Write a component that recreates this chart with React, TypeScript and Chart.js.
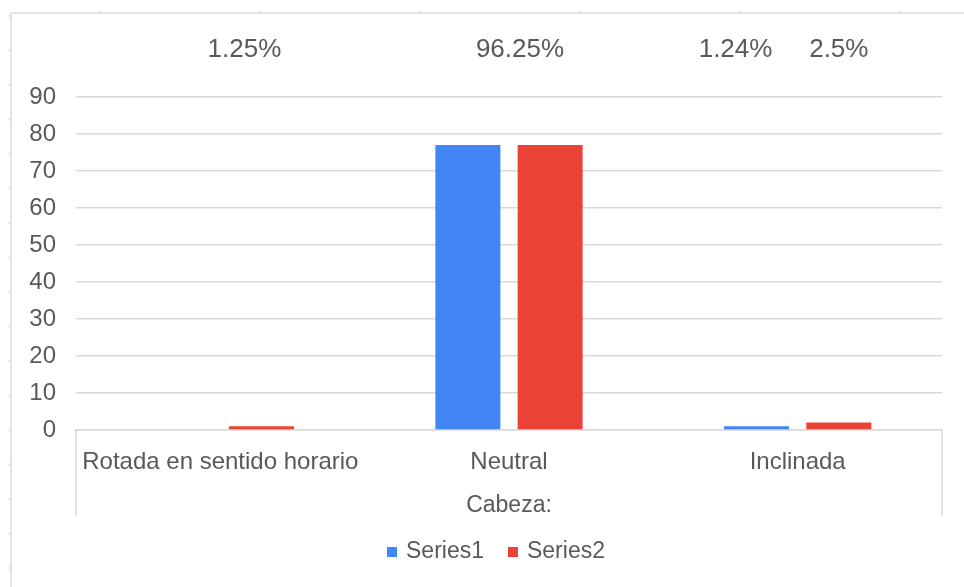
import React, { useEffect, useRef } from "react";
import { Chart, registerables } from "chart.js";

Chart.register(...registerables);

const categories = ["Rotada en sentido horario", "Neutral", "Inclinada"];
const series1 = [0, 77, 1];
const series2 = [1, 77, 2];
const seriesNames = ["Series1", "Series2"];
const seriesColors = ["#4285F4", "#EA4335"];
const axisTitle = "Cabeza:";
const percentLabels = ["1.25%", "96.25%", "1.24%", "2.5%"];

const FONT = "'Liberation Sans', Arial, sans-serif";
const TEXT = "#595959";
const GRID = "#d9d9d9";

export default function App() {
  const ref = useRef<HTMLCanvasElement | null>(null);

  useEffect(() => {
    document.body.style.margin = "0";
    const canvas = ref.current;
    if (!canvas) return;

    const decor = {
      id: "decor",
      afterDraw(chart: any) {
        const ctx = chart.ctx;
        const area = chart.chartArea;
        const xs = chart.scales.x;
        ctx.save();
        // outer frame with ruler-like ticks
        ctx.strokeStyle = "#e3e3e3";
        ctx.lineWidth = 2;
        ctx.beginPath();
        ctx.moveTo(10, 13);
        ctx.lineTo(964, 13);
        ctx.moveTo(11, 13);
        ctx.lineTo(11, 587);
        ctx.stroke();
        ctx.lineWidth = 1.5;
        ctx.beginPath();
        for (let x = 100; x < 964; x += 160) {
          ctx.moveTo(x, 10);
          ctx.lineTo(x, 13);
        }
        for (let y = 16; y < 587; y += 34.5) {
          ctx.moveTo(8, y);
          ctx.lineTo(11, y);
        }
        ctx.stroke();
        // multi-level axis separators
        ctx.strokeStyle = GRID;
        ctx.lineWidth = 1.5;
        ctx.beginPath();
        ctx.moveTo(area.left, area.bottom);
        ctx.lineTo(area.left, area.bottom + 86);
        ctx.moveTo(area.right, area.bottom);
        ctx.lineTo(area.right, area.bottom + 86);
        ctx.stroke();
        // percentage annotations
        const m0 = chart.getDatasetMeta(0).data;
        const m1 = chart.getDatasetMeta(1).data;
        const anchors = [
          m1[0].x - 17,
          xs.getPixelForValue(1) + 11,
          m0[2].x - 21,
          m1[2].x,
        ];
        ctx.fillStyle = TEXT;
        ctx.font = `26px ${FONT}`;
        ctx.textAlign = "center";
        ctx.textBaseline = "middle";
        percentLabels.forEach((t, i) => ctx.fillText(t, anchors[i], 50));
        // legend
        ctx.font = `23px ${FONT}`;
        ctx.textAlign = "left";
        let lx = 387;
        const ly = 552;
        chart.data.datasets.forEach((ds: any) => {
          ctx.fillStyle = ds.backgroundColor;
          ctx.fillRect(lx, ly - 5, 10, 10);
          ctx.fillStyle = TEXT;
          ctx.fillText(ds.label, lx + 19, ly);
          lx += 19 + ctx.measureText(ds.label).width + 24;
        });
        ctx.restore();
      },
    };

    const chart = new Chart(canvas, {
      type: "bar",
      data: {
        labels: categories,
        datasets: seriesNames.map((name, i) => ({
          label: name,
          data: i === 0 ? series1 : series2,
          backgroundColor: seriesColors[i],
          categoryPercentage: 0.57,
          barPercentage: 0.79,
        })),
      },
      options: {
        responsive: false,
        animation: false,
        layout: { padding: { top: 97, right: 22, left: 0, bottom: 57 } },
        scales: {
          y: {
            min: 0,
            max: 90,
            ticks: {
              stepSize: 10,
              color: TEXT,
              font: { family: FONT, size: 24 },
              padding: 20,
            },
            grid: { color: GRID, lineWidth: 1.5, drawTicks: false },
            border: { display: false },
            afterFit(scale: any) {
              scale.width = 76;
            },
          },
          x: {
            ticks: {
              color: TEXT,
              font: { family: FONT, size: 24 },
              padding: 18,
              maxRotation: 0,
              autoSkip: false,
            },
            grid: { display: false, drawTicks: false },
            border: { display: true, color: GRID, width: 1.5 },
            title: {
              display: true,
              text: axisTitle,
              color: TEXT,
              font: { family: FONT, size: 23 },
              padding: { top: 15, bottom: 11 },
            },
            afterFit(scale: any) {
              scale.height = 100;
            },
          },
        },
        plugins: {
          legend: { display: false },
          tooltip: { enabled: false },
        },
      },
      plugins: [decor],
    });

    return () => chart.destroy();
  }, []);

  return (
    <div style={{ width: 964, height: 587, background: "#fff" }}>
      <canvas ref={ref} width={964} height={587} />
    </div>
  );
}
